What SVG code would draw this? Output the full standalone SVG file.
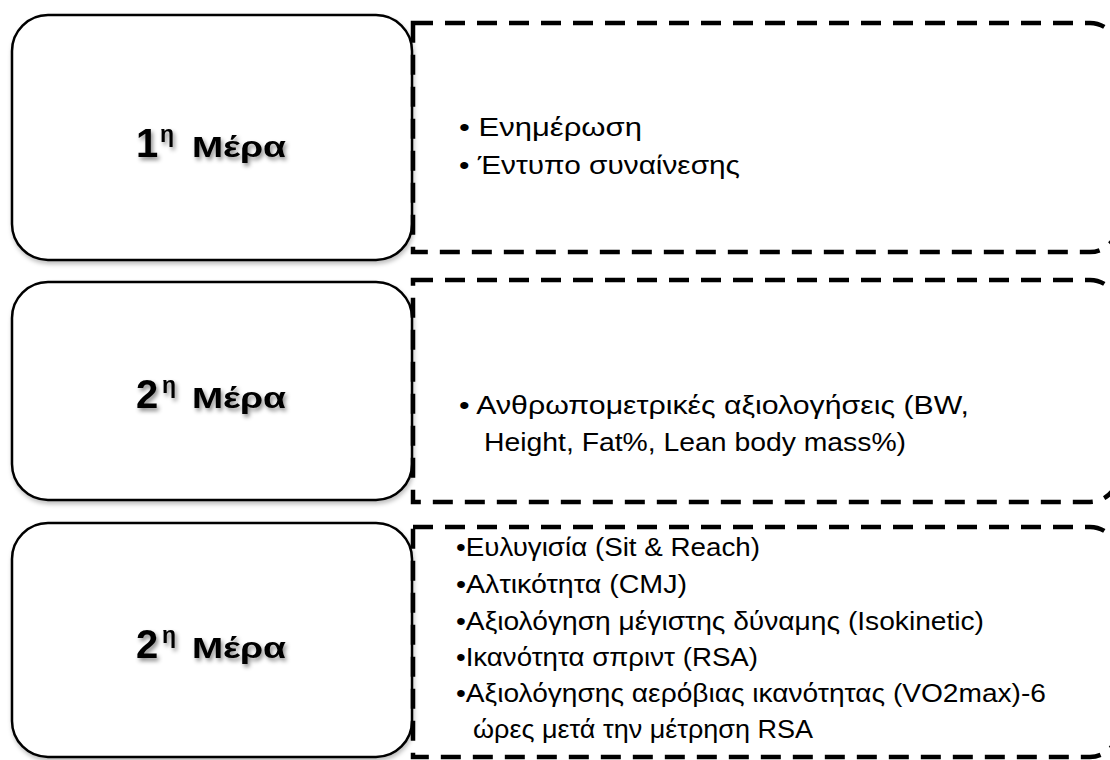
<svg xmlns="http://www.w3.org/2000/svg" width="1110" height="760" viewBox="0 0 1110 760">
  <defs>
    <filter id="tshadow" x="-20%" y="-30%" width="140%" height="160%">
      <feDropShadow dx="2" dy="3" stdDeviation="2" flood-color="#000" flood-opacity="0.45"/>
    </filter>
    <filter id="bshadow" x="-5%" y="-5%" width="110%" height="112%">
      <feDropShadow dx="1" dy="3" stdDeviation="2" flood-color="#000" flood-opacity="0.25"/>
    </filter>
  </defs>
  <style>
    .day { fill: #ffffff; stroke: #000; stroke-width: 2.5; filter: url(#bshadow); }
    .box { fill: none; stroke: #000; stroke-width: 4.5; stroke-dasharray: 20 12; }
    .lbl { font-family: "Liberation Sans", Arial, sans-serif; font-weight: bold; fill: #000; filter: url(#tshadow); }
    .num { font-size: 40px; }
    .sup { font-size: 23px; }
    .word { font-size: 30px; }
    .item { font-family: "Liberation Sans", Arial, sans-serif; font-size: 26px; fill: #000; }
  </style>
  <rect width="1110" height="760" fill="#ffffff"/>

  <g id="day1">
    <rect class="day" x="12" y="15" width="400" height="245" rx="36" ry="36"/>
    <text class="lbl"><tspan class="num" x="136" y="157">1</tspan><tspan class="sup" x="160" y="142">η</tspan><tspan class="word" x="192" y="157" textLength="94" lengthAdjust="spacingAndGlyphs">Μέρα</tspan></text>
  </g>
  <g id="info1">
    <path class="box" d="M413,23 H1090 A28,28 0 0 1 1118,51 V224 A28,28 0 0 1 1090,252 H413 Z"/>
    <text class="item" x="459" y="136" textLength="183" lengthAdjust="spacingAndGlyphs">• Ενημέρωση</text>
    <text class="item" x="459" y="174" textLength="281" lengthAdjust="spacingAndGlyphs">• Έντυπο συναίνεσης</text>
  </g>

  <g id="day2a">
    <rect class="day" x="12" y="282" width="400" height="218" rx="36" ry="36"/>
    <text class="lbl"><tspan class="num" x="136" y="408">2</tspan><tspan class="sup" x="162" y="393">η</tspan><tspan class="word" x="192" y="408" textLength="94" lengthAdjust="spacingAndGlyphs">Μέρα</tspan></text>
  </g>
  <g id="info2">
    <path class="box" d="M413,280 H1090 A28,28 0 0 1 1118,308 V474 A28,28 0 0 1 1090,502 H413 Z"/>
    <text class="item" x="459" y="414" textLength="510" lengthAdjust="spacingAndGlyphs">• Ανθρωπομετρικές αξιολογήσεις (BW,</text>
    <text class="item" x="484" y="451" textLength="422" lengthAdjust="spacingAndGlyphs">Height, Fat%, Lean body mass%)</text>
  </g>

  <g id="day2b">
    <rect class="day" x="12" y="523" width="400" height="234" rx="36" ry="36"/>
    <text class="lbl"><tspan class="num" x="136" y="658">2</tspan><tspan class="sup" x="162" y="643">η</tspan><tspan class="word" x="192" y="658" textLength="94" lengthAdjust="spacingAndGlyphs">Μέρα</tspan></text>
  </g>
  <g id="info3">
    <path class="box" d="M413,527 H1090 A28,28 0 0 1 1118,555 V729 A28,28 0 0 1 1090,757 H413 Z"/>
    <text class="item" x="456" y="556" textLength="304" lengthAdjust="spacingAndGlyphs">•Ευλυγισία (Sit &amp; Reach)</text>
    <text class="item" x="456" y="593" textLength="231" lengthAdjust="spacingAndGlyphs">•Αλτικότητα (CMJ)</text>
    <text class="item" x="456" y="630" textLength="528" lengthAdjust="spacingAndGlyphs">•Αξιολόγηση μέγιστης δύναμης (Isokinetic)</text>
    <text class="item" x="456" y="666" textLength="302" lengthAdjust="spacingAndGlyphs">•Ικανότητα σπριντ (RSA)</text>
    <text class="item" x="456" y="702" textLength="590" lengthAdjust="spacingAndGlyphs">•Αξιολόγησης αερόβιας ικανότητας (VO2max)-6</text>
    <text class="item" x="473" y="738" textLength="340" lengthAdjust="spacingAndGlyphs">ώρες μετά την μέτρηση RSA</text>
  </g>
</svg>
